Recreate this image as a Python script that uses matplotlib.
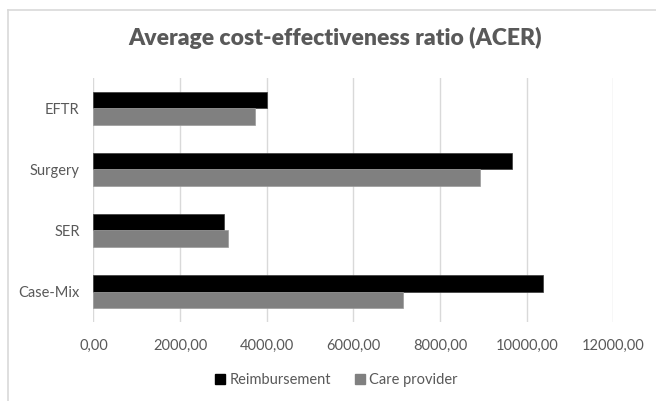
import numpy as np
import matplotlib
matplotlib.use("Agg")
import matplotlib.pyplot as plt
from matplotlib.lines import Line2D

categories = ["EFTR", "Surgery", "SER", "Case-Mix"]
reimbursement = [4000, 9650, 3020, 10370]
care_provider = [3735, 8930, 3100, 7150]
xticks = [0, 2000, 4000, 6000, 8000, 10000, 12000]
xtick_labels = ["0,00", "2000,00", "4000,00", "6000,00", "8000,00", "10000,00", "12000,00"]

plt.rcParams["font.family"] = ["Lato", "DejaVu Sans"]
text_col = "#595959"
grid_col = "#d9d9d9"

fig = plt.figure(figsize=(6.56, 4.01), dpi=100)
ax = fig.add_axes([0.1425, 0.197, 0.7925, 0.6085])

pos = np.arange(len(categories))[::-1]
h = 0.265
ax.barh(pos + h / 2, reimbursement, height=h, color="#000000",
        edgecolor="#3a3a3a", linewidth=0.5, label="Reimbursement", zorder=3)
ax.barh(pos - h / 2, care_provider, height=h, color="#808080",
        edgecolor="#9a9a9a", linewidth=0.5, label="Care provider", zorder=3)

ax.set_xlim(0, 12000)
ax.set_ylim(-0.5, len(categories) - 0.5)
ax.set_xticks(xticks)
ax.set_xticklabels(xtick_labels)
ax.set_yticks(pos)
ax.set_yticklabels(categories)
ax.tick_params(axis="x", length=0, pad=12, labelsize=10.5, labelcolor=text_col)
ax.tick_params(axis="y", length=0, pad=10, labelsize=10.5, labelcolor=text_col)
ax.grid(axis="x", color=grid_col, linewidth=1, zorder=0)
for s in ax.spines.values():
    s.set_visible(False)

fig.text(0.51, 0.905, "Average cost-effectiveness ratio (ACER)", ha="center",
         va="center", fontsize=16.5, fontweight="heavy", color=text_col)

handles = [Line2D([], [], marker="s", linestyle="none", markersize=7, color="#000000"),
           Line2D([], [], marker="s", linestyle="none", markersize=7, color="#808080")]
fig.legend(handles, ["Reimbursement", "Care provider"], loc="center",
           bbox_to_anchor=(0.512, 0.052), ncol=2, frameon=False, fontsize=10.5,
           labelcolor=text_col, handletextpad=0.2, columnspacing=1.6,
           handlelength=0.8)

# chart border (only top and left visible in the reference)
fig.add_artist(Line2D([0.012, 1.0], [0.975, 0.975], color=grid_col, lw=1.2,
                      transform=fig.transFigure))
fig.add_artist(Line2D([0.012, 0.012], [0.0, 0.975], color=grid_col, lw=1.2,
                      transform=fig.transFigure))

fig.savefig("out.png", dpi=100)
